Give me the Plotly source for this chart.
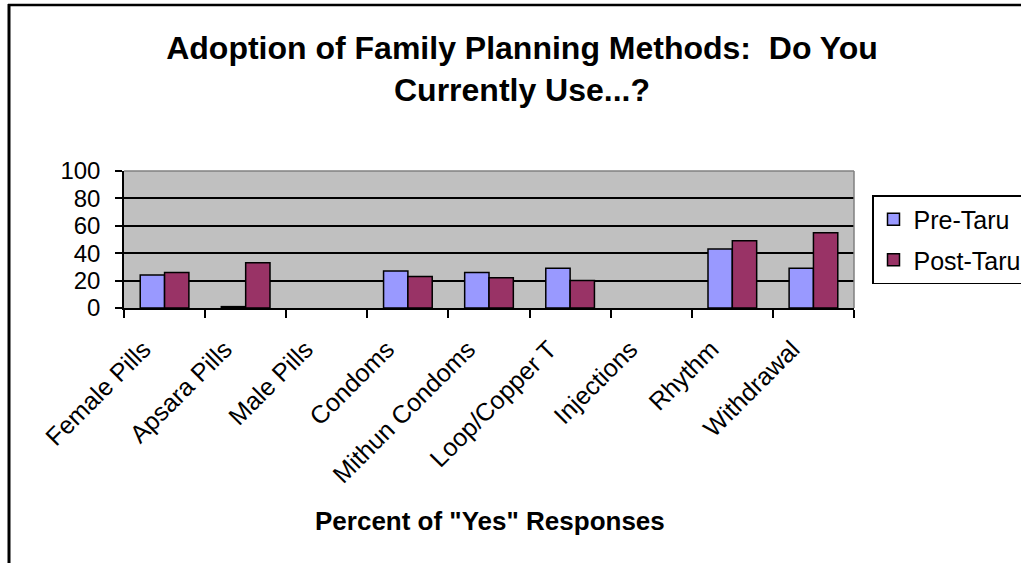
import plotly.graph_objects as go

# Survey categories and percentage of "Yes" responses
methods = ["Female Pills", "Apsara Pills", "Male Pills", "Condoms", "Mithun Condoms",
           "Loop/Copper T", "Injections", "Rhythm", "Withdrawal"]
pre_taru = [24, 1, None, 27, 26, 29, None, 43, 29]
post_taru = [26, 33, None, 23, 22, 20, None, 49, 55]
y_ticks = [0, 20, 40, 60, 80, 100]

W, H = 1021, 563
L, R, T, B = 124, 854, 171, 308  # plot area in pixels


def px_x(p):
    return (p - L) / (R - L)


def px_y(p):
    return (B - p) / (B - T)


FONT = "Liberation Sans, Arial, sans-serif"

fig = go.Figure()
fig.add_trace(go.Bar(
    x=methods, y=pre_taru, name="Pre-Taru", legendgroup="pre",
    marker=dict(color="#9999FF", line=dict(color="black", width=1.5)),
))
fig.add_trace(go.Bar(
    x=methods, y=post_taru, name="Post-Taru", legendgroup="post",
    marker=dict(color="#993366", line=dict(color="black", width=1.5)),
))

fig.update_layout(
    width=W, height=H,
    margin=dict(l=L, r=W - R, t=T, b=H - B, autoexpand=False),
    paper_bgcolor="white",
    plot_bgcolor="#C0C0C0",
    barmode="group", bargap=0.4, bargroupgap=0,
    font=dict(family=FONT, color="black"),
    title=dict(
        text="Adoption of Family Planning Methods:\u00a0 Do You<br>Currently Use...?",
        font=dict(family=FONT, size=32, color="black", weight="bold"),
        xref="container", x=522 / W, xanchor="center",
        yref="container", y=1 - 59 / H, yanchor="middle",
    ),
    legend=dict(
        x=px_x(872), y=px_y(195), xanchor="left", yanchor="top",
        bordercolor="black", borderwidth=1.5, bgcolor="white",
        font=dict(family=FONT, size=25, color="black"),
        traceorder="grouped", tracegroupgap=5,
        entrywidth=160, entrywidthmode="pixels",
    ),
    showlegend=True,
)

fig.update_xaxes(
    type="category", tickson="boundaries",
    ticks="outside", ticklen=8, tickcolor="black", tickwidth=1.5,
    showline=True, linecolor="black", linewidth=1.5,
    showgrid=False, tickangle=-45,
    tickfont=dict(family=FONT, size=25, color="black"),
    ticklabelstandoff=15, ticklabelshift=-21,
    mirror=False, fixedrange=True,
)
fig.update_yaxes(
    range=[0, 100], tickvals=y_ticks, ticktext=[str(v) for v in y_ticks],
    ticks="outside", ticklen=7, tickcolor="black", tickwidth=1.5,
    showline=True, linecolor="black", linewidth=1.5,
    showgrid=True, gridcolor="black", gridwidth=1.5,
    zeroline=False, ticklabelstandoff=10,
    tickfont=dict(family=FONT, size=24, color="black"),
    fixedrange=True,
)

# Grey frame on top and right of the plot area
fig.add_shape(type="line", xref="paper", yref="paper", x0=0, x1=1, y0=1, y1=1,
              line=dict(color="#808080", width=1.5))
fig.add_shape(type="line", xref="paper", yref="paper", x0=1, x1=1, y0=0, y1=1,
              line=dict(color="#808080", width=1.5))

# Outer chart border (left and top edges)
fig.add_shape(type="line", xref="paper", yref="paper",
              x0=px_x(9), x1=px_x(9), y0=px_y(4), y1=px_y(700),
              line=dict(color="black", width=3))
fig.add_shape(type="line", xref="paper", yref="paper",
              x0=px_x(8), x1=px_x(1200), y0=px_y(5), y1=px_y(5),
              line=dict(color="black", width=2.5))

# Category axis title
fig.add_annotation(
    text='Percent of "Yes" Responses', showarrow=False,
    xref="paper", yref="paper", x=px_x(490), y=px_y(521),
    xanchor="center", yanchor="middle",
    font=dict(family=FONT, size=26, color="black", weight="bold"),
)

fig.write_html("out.html")
